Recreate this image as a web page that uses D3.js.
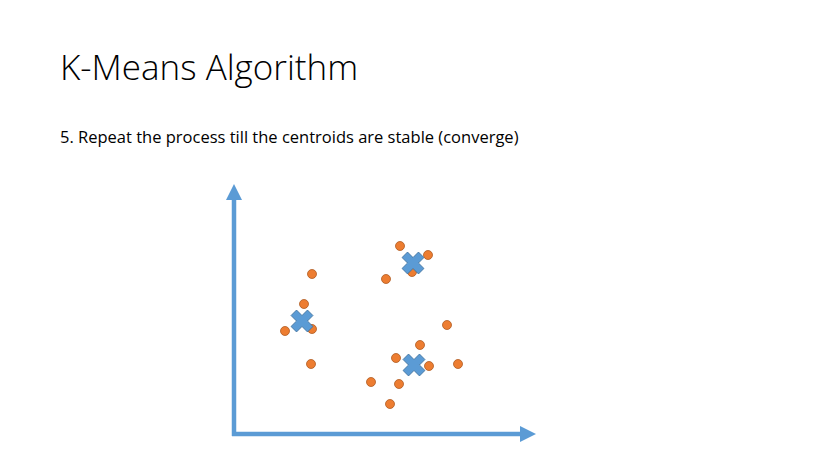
<!DOCTYPE html>
<html>
<head>
<meta charset="utf-8">
<script src="https://cdn.jsdelivr.net/npm/d3@7"></script>
<style>
  body { margin: 0; background: #fff; }
</style>
</head>
<body>
<script>
'use strict';

// data points (x, y) in plot units, origin at the axis corner
const pointsX = [166, 194, 178, 152, 78, 70, 78, 51, 77, 213, 186, 162, 195, 224, 137, 165, 156];
const pointsY = [188, 179, 162, 155, 160, 130, 105, 103, 70, 109, 89, 76, 68, 70, 52, 50, 30];
const centroidsX = [179, 68, 180];
const centroidsY = [171, 113, 69];

const svg = d3.select('body').append('svg')
  .attr('width', 836)
  .attr('height', 467);

svg.append('text')
  .attr('x', 60).attr('y', 80)
  .style('font-family', '"Open Sans", sans-serif')
  .style('font-weight', 300)
  .style('font-size', '35px')
  .text('K-Means Algorithm');

svg.append('text')
  .attr('x', 60).attr('y', 143)
  .style('font-family', '"Open Sans", sans-serif')
  .style('font-size', '16.5px')
  .text('5. Repeat the process till the centroids are stable (converge)');

const x = d3.scaleLinear().domain([0, 300]).range([234, 534]);
const y = d3.scaleLinear().domain([0, 250]).range([434, 184]);
const blue = '#5b9bd5';

// axes as arrows
svg.append('line')
  .attr('x1', x(0)).attr('y1', y(0) + 2)
  .attr('x2', x(0)).attr('y2', y(234))
  .attr('stroke', blue).attr('stroke-width', 4.5);
svg.append('line')
  .attr('x1', x(0) - 2).attr('y1', y(0))
  .attr('x2', x(286)).attr('y2', y(0))
  .attr('stroke', blue).attr('stroke-width', 4.5);
svg.append('path')
  .attr('d', `M${x(0) - 8},${y(234)} L${x(0)},${y(250)} L${x(0) + 8},${y(234)} Z`)
  .attr('fill', blue);
svg.append('path')
  .attr('d', `M${x(286)},${y(0) - 8} L${x(302)},${y(0)} L${x(286)},${y(0) + 8} Z`)
  .attr('fill', blue);

svg.append('g').selectAll('circle')
  .data(pointsX.map((d, i) => [d, pointsY[i]]))
  .enter().append('circle')
  .attr('cx', d => x(d[0]))
  .attr('cy', d => y(d[1]))
  .attr('r', 4.5)
  .attr('fill', '#ed7d31')
  .attr('stroke', '#ae5a21')
  .attr('stroke-width', 0.8);

const cross = d3.symbol().type(d3.symbolCross).size(300);
svg.append('g').selectAll('path')
  .data(centroidsX.map((d, i) => [d, centroidsY[i]]))
  .enter().append('path')
  .attr('d', cross)
  .attr('transform', d => `translate(${x(d[0])},${y(d[1])}) rotate(45)`)
  .attr('fill', blue)
  .attr('stroke', '#41719c')
  .attr('stroke-width', 0.8);
</script>
</body>
</html>
